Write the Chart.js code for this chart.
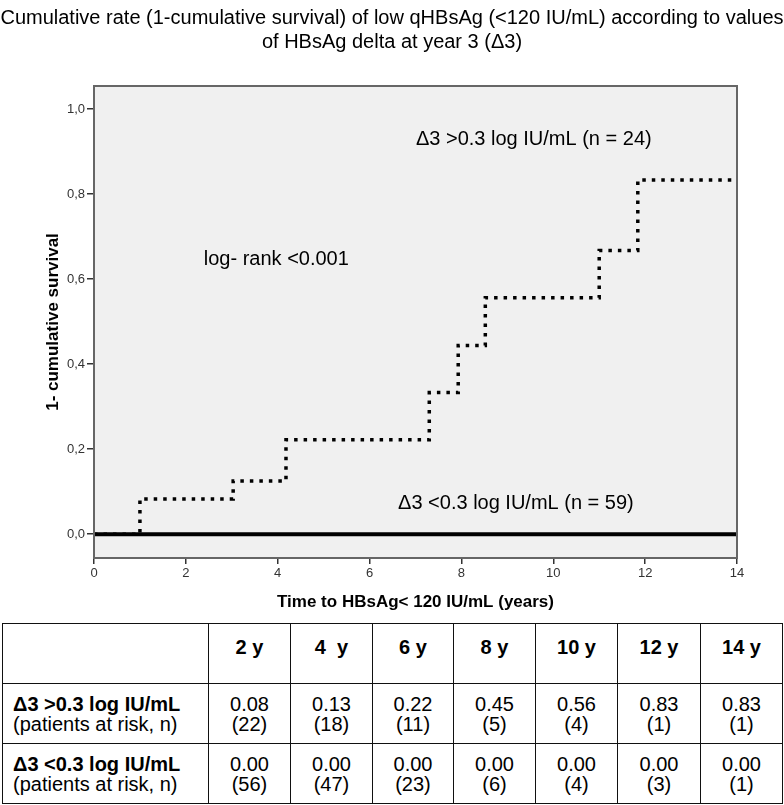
<!DOCTYPE html>
<html>
<head>
<meta charset="utf-8">
<script src="https://cdn.jsdelivr.net/npm/chart.js@4.4.0/dist/chart.umd.min.js"></script>
<style>
html,body{margin:0;padding:0;background:#fff;width:784px;height:805px;overflow:hidden;font-family:"Liberation Sans",Arial,sans-serif;}
#wrap{position:absolute;left:0;top:0;width:784px;height:620px;}
#riskTable{position:absolute;left:2px;top:623px;border-collapse:collapse;table-layout:fixed;width:780px;font-size:20px;color:#000;}
#riskTable td,#riskTable th{border:1.5px solid #111;text-align:center;padding:0;line-height:20px;}
#riskTable tr{height:60px;}
#riskTable th{font-weight:bold;vertical-align:top;padding-top:13px;white-space:pre;}
#riskTable td.lab{text-align:left;padding-left:10px;}
</style>
</head>
<body>
<div id="wrap"><canvas id="c" width="784" height="620"></canvas></div>
<table id="riskTable"></table>
<script>
// ---- data ----
const titleLines = ["Cumulative rate (1-cumulative survival) of low qHBsAg (<120 IU/mL) according to values", "of HBsAg delta at year 3 (\u03943)"];
const timeTicks = [0, 2, 4, 6, 8, 10, 12, 14];
const survTicks = [0, 0.2, 0.4, 0.6, 0.8, 1.0];
const highTimes  = [0, 1.0, 3.03, 4.18, 7.3, 7.93, 8.52, 11.0, 11.84, 14];
const highValues = [0, 0.083, 0.125, 0.222, 0.333, 0.444, 0.556, 0.667, 0.833, 0.833];
const lowTimes  = [0, 14];
const lowValues = [0, 0];
const highLabel = "\u03943 >0.3 log IU/mL (n = 24)";
const lowLabel  = "\u03943 <0.3 log IU/mL (n = 59)";
const logRankLabel = "log- rank <0.001";
const tableYears = ["2 y", "4  y", "6 y", "8 y", "10 y", "12 y", "14 y"];
const highRate = ["0.08", "0.13", "0.22", "0.45", "0.56", "0.83", "0.83"];
const highRisk = [22, 18, 11, 5, 4, 1, 1];
const lowRate  = ["0.00", "0.00", "0.00", "0.00", "0.00", "0.00", "0.00"];
const lowRisk  = [56, 47, 23, 6, 4, 3, 1];
const rowLabels = ["\u03943 >0.3 log IU/mL", "\u03943 <0.3 log IU/mL"];
const rowSub = "(patients at risk, n)";

// ---- table ----
(function(){
  const t = document.getElementById('riskTable');
  const cg = document.createElement('colgroup');
  const widths = [206, 82, 82, 81, 82, 82, 83, 82];
  widths.forEach(w => { const c = document.createElement('col'); c.style.width = w + 'px'; cg.appendChild(c); });
  t.appendChild(cg);
  let tr = document.createElement('tr');
  tr.appendChild(document.createElement('th'));
  tableYears.forEach(y => { const th = document.createElement('th'); th.textContent = y; tr.appendChild(th); });
  t.appendChild(tr);
  [[highRate, highRisk], [lowRate, lowRisk]].forEach((r, i) => {
    tr = document.createElement('tr');
    const lab = document.createElement('td'); lab.className = 'lab';
    lab.innerHTML = '<b>' + rowLabels[i] + '</b><br>' + rowSub;
    tr.appendChild(lab);
    r[0].forEach((v, j) => { const td = document.createElement('td'); td.innerHTML = v + '<br>(' + r[1][j] + ')'; tr.appendChild(td); });
    t.appendChild(tr);
  });
})();

// ---- chart ----
const FONT = '"Liberation Sans", Arial, sans-serif';
const framePlugin = {
  id: 'frame',
  beforeDraw(chart) {
    const {ctx, chartArea: a} = chart;
    ctx.save();
    ctx.fillStyle = '#f0f0f0';
    ctx.fillRect(a.left, a.top, a.right - a.left, a.bottom - a.top);
    ctx.restore();
    ctx.save();
    ctx.fillStyle = '#000';
    ctx.font = '20px ' + FONT;
    ctx.textAlign = 'center';
    ctx.textBaseline = 'middle';
    ctx.fillText(titleLines[0], 392, 18);
    ctx.fillText(titleLines[1], 392, 42);
    ctx.restore();
  },
  afterDatasetsDraw(chart) {
    const {ctx, chartArea: a, scales} = chart;
    ctx.save();
    ctx.strokeStyle = '#666';
    ctx.lineWidth = 2;
    ctx.strokeRect(a.left, a.top, a.right - a.left, a.bottom - a.top);
    ctx.fillStyle = '#000';
    ctx.font = '20px ' + FONT;
    ctx.textAlign = 'left';
    ctx.textBaseline = 'middle';
    ctx.fillText(highLabel, scales.x.getPixelForValue(7.01), scales.y.getPixelForValue(0.929));
    ctx.fillText(logRankLabel, scales.x.getPixelForValue(2.39), scales.y.getPixelForValue(0.645));
    ctx.fillText(lowLabel, scales.x.getPixelForValue(6.62), scales.y.getPixelForValue(0.073));
    ctx.restore();
  }
};

const toXY = (xs, ys) => xs.map((x, i) => ({x: x, y: ys[i]}));

new Chart(document.getElementById('c'), {
  type: 'line',
  data: {
    datasets: [
      {
        label: lowLabel,
        data: toXY(lowTimes, lowValues),
        borderColor: '#000',
        borderWidth: 4,
        pointRadius: 0,
        stepped: true,
        fill: false
      },
      {
        label: highLabel,
        data: toXY(highTimes, highValues),
        borderColor: '#000',
        borderWidth: 3.5,
        borderDash: [3.5, 6],
        borderCapStyle: 'butt',
        pointRadius: 0,
        stepped: true,
        fill: false
      }
    ]
  },
  options: {
    responsive: false,
    animation: false,
    devicePixelRatio: 1,
    layout: {padding: {left: 0, right: 47, top: 86, bottom: 0}},
    plugins: {legend: {display: false}, title: {display: false}, tooltip: {enabled: false}},
    scales: {
      x: {
        type: 'linear',
        min: 0, max: 14,
        afterFit(s) { s.height = 62; },
        afterBuildTicks(s) { s.ticks = timeTicks.map(v => ({value: v})); },
        grid: {drawOnChartArea: false, drawTicks: true, tickLength: 6, color: '#333', lineWidth: 1.5},
        border: {display: false},
        ticks: {font: {size: 13, family: FONT}, color: '#333', padding: 2, maxRotation: 0},
        title: {display: true, text: 'Time to HBsAg< 120 IU/mL (years)', font: {size: 17, weight: 'bold', family: FONT}, color: '#000', padding: {top: 0, bottom: 7}}
      },
      y: {
        type: 'linear',
        min: -0.056, max: 1.054,
        afterFit(s) { s.width = 94; },
        afterBuildTicks(s) { s.ticks = survTicks.map(v => ({value: v})); },
        grid: {drawOnChartArea: false, drawTicks: true, tickLength: 7, color: '#333', lineWidth: 1.5},
        border: {display: false},
        ticks: {font: {size: 13, family: FONT}, color: '#333', padding: 2, callback: v => v.toFixed(1).replace('.', ',')},
        title: {display: true, text: '1- cumulative survival', font: {size: 17, weight: 'bold', family: FONT}, color: '#000', padding: {top: 43, bottom: 0}}
      }
    }
  },
  plugins: [framePlugin]
});
</script>
</body>
</html>
